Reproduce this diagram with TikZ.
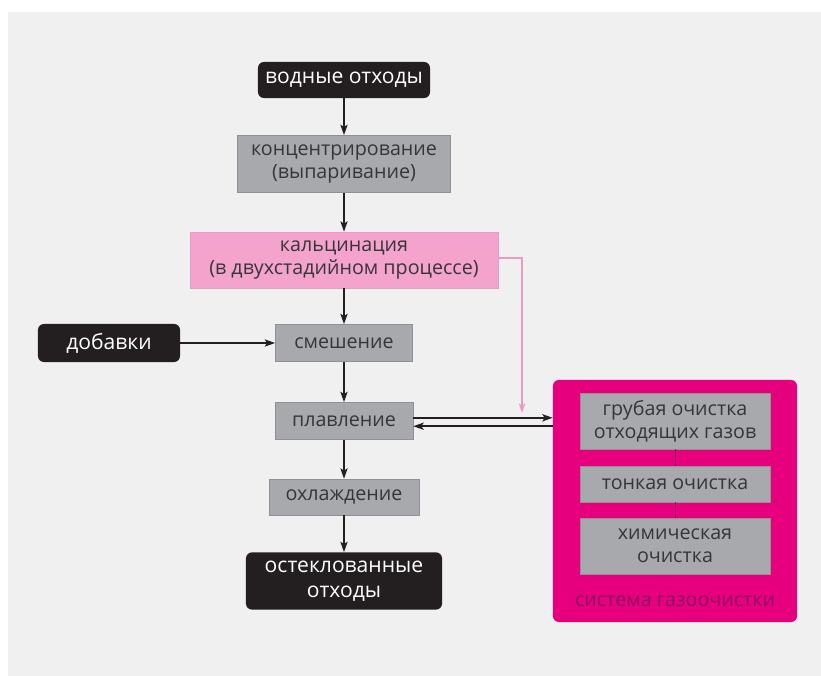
\documentclass[tikz,border=0pt]{standalone}
\usepackage{fontspec}
\setmainfont{Open Sans}
\usepackage{tikz}
\usetikzlibrary{arrows.meta}
\definecolor{g1}{HTML}{F0F0F0}
\definecolor{g2}{HTML}{A7A9AC}
\definecolor{g3}{HTML}{8F9194}
\definecolor{g4}{HTML}{363638}
\definecolor{k1}{HTML}{231F20}
\definecolor{m1}{HTML}{F4A3CC}
\definecolor{m2}{HTML}{E89CC4}
\definecolor{m3}{HTML}{E6007E}
\definecolor{m4}{HTML}{8E1060}
\tikzset{
  box/.style={inner sep=0pt, align=center, font=\fontsize{14}{16.5}\selectfont},
  grbox/.style={box, fill=g2, draw=g3, line width=0.4pt, text=g4},
  bkbox/.style={box, fill=k1, rounded corners=0.15cm, text=white, font=\fontsize{15}{17.5}\selectfont},
  pkbox/.style={box, fill=m1, draw=m2, line width=0.4pt, text=g4},
  arr/.style={k1, line width=1.1pt, -{Stealth[length=2.6mm, width=1.8mm, inset=0.6mm]}},
  pkarr/.style={m2, line width=0.9pt, -{Stealth[length=2.4mm, width=1.6mm, inset=0.6mm]}}
}

\begin{document}
\begin{tikzpicture}[x=0.025cm, y=-0.025cm]
\useasboundingbox (0,0) rectangle (821,676);
\fill[g1] (8,12) rectangle (821,676);
% main line
\node[bkbox, minimum width=4.3cm, minimum height=0.9cm] (vod) at (344,80) {водные отходы};
\node[grbox, minimum width=5.33cm, minimum height=1.43cm] (konc) at (344,164) {концентрирование\\(выпаривание)};
\node[pkbox, minimum width=7.7cm, minimum height=1.4cm] (kalc) at (344,260) {кальцинация\\(в двухстадийном процессе)};
\node[bkbox, minimum width=3.55cm, minimum height=0.95cm] (dob) at (109,343) {добавки};
\node[grbox, minimum width=3.43cm, minimum height=0.93cm] (smes) at (344,343) {смешение};
\node[grbox, minimum width=3.45cm, minimum height=0.93cm] (plav) at (344,421) {плавление};
\node[grbox, minimum width=3.75cm, minimum height=0.9cm] (ohl) at (344,497) {охлаждение};
\node[bkbox, minimum width=4.9cm, minimum height=1.43cm] (ostek) at (344,581) {остеклованные\\отходы};
% gas cleaning
\node[fill=m3, rounded corners=0.15cm, minimum width=6.1cm, minimum height=6.05cm, inner sep=0pt] (gas) at (675,501) {};
\node[grbox, minimum width=4.75cm, minimum height=1.4cm] (grub) at (675,421) {грубая очистка\\отходящих газов};
\node[grbox, minimum width=4.75cm, minimum height=0.9cm] (tonk) at (675,484) {тонкая очистка};
\node[grbox, minimum width=4.75cm, minimum height=1.4cm] (chim) at (675,546) {химическая\\очистка};
\node[box, text=m4] (gaslbl) at (675,601) {система газоочистки};
\draw[m4, line width=0.5pt] (grub) -- (tonk);
\draw[m4, line width=0.5pt] (tonk) -- (chim);
% arrows
\draw[arr] (vod) -- (konc);
\draw[arr] (konc) -- (kalc);
\draw[arr] (kalc) -- (smes);
\draw[arr] (dob) -- (smes);
\draw[arr] (smes) -- (plav);
\draw[arr] (plav) -- (ohl);
\draw[arr] (ohl) -- (ostek);
\draw[arr] ([yshift=0.08cm]plav.east) -- ([yshift=0.08cm]plav.east -| gas.west);
\draw[arr] ([yshift=-0.13cm]plav.east -| gas.west) -- ([yshift=-0.13cm]plav.east);
\coordinate (pkend) at (522,413);
\draw[pkarr] ([yshift=0.05cm]kalc.east) -| (pkend);
\end{tikzpicture}
\end{document}
